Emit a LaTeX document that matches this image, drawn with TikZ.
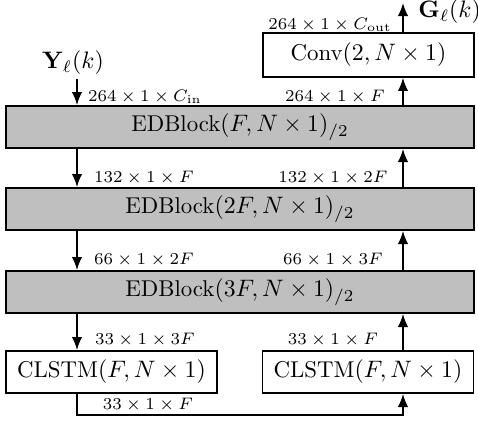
\documentclass[tikz,border=0pt]{standalone}
\usetikzlibrary{arrows.meta}
\begin{document}
\begin{tikzpicture}[x=0.42pt,y=-0.42pt,
  blk/.style={draw=black,line width=0.8pt,rectangle,inner sep=0pt,minimum height=17.6pt,font=\fontsize{9.6}{11}\selectfont},
  edb/.style={blk,fill=gray!50,minimum width=196.5pt},
  wb/.style={blk,fill=white,minimum width=88.6pt},
  lab/.style={font=\fontsize{7}{8.5}\selectfont,inner sep=0pt},
  conn/.style={line width=0.7pt,-{Latex[length=5.5pt,width=4.4pt]}}]
\useasboundingbox (0,0) rectangle (478,423);
\node[edb] (ed1) at (240,127) {EDBlock$(F,N\times 1)_{/2}$};
\node[edb] (ed2) at (240,209) {EDBlock$(2F,N\times 1)_{/2}$};
\node[edb] (ed3) at (240,292) {EDBlock$(3F,N\times 1)_{/2}$};
\node[wb] (cl1) at (111.5,372) {CLSTM$(F,N\times 1)$};
\node[wb] (cl2) at (368,372) {CLSTM$(F,N\times 1)$};
\node[wb,minimum height=18.4pt] (conv) at (368.5,55) {Conv$(2,N\times 1)$};
\node[font=\fontsize{10}{12}\selectfont,inner sep=0pt] (ylab) at (73,63) {$\mathbf{Y}_\ell(k)$};
\node[font=\fontsize{10}{12}\selectfont,inner sep=0pt,anchor=west] (glab) at (418,12) {$\mathbf{G}_\ell(k)$};
\coordinate (yin) at (77,79);
\coordinate (gout) at (403,3);
\coordinate (bl) at (77,415);
\coordinate (br) at (403,415);
% down path
\draw[conn] (yin) -- (yin|-ed1.north);
\draw[conn] (yin|-ed1.south) -- (yin|-ed2.north);
\draw[conn] (yin|-ed2.south) -- (yin|-ed3.north);
\draw[conn] (yin|-ed3.south) -- (yin|-cl1.north);
\draw[conn] (bl|-cl1.south) -- (bl) -- (br) -- (br|-cl2.south);
% up path
\draw[conn] (br|-cl2.north) -- (br|-ed3.south);
\draw[conn] (br|-ed3.north) -- (br|-ed2.south);
\draw[conn] (br|-ed2.north) -- (br|-ed1.south);
\draw[conn] (br|-ed1.north) -- (br|-conv.south);
\draw[conn] (br|-conv.north) -- (gout);
% labels
\node[lab] (l1) at (145,97) {$264\times 1\times C_{\mathrm{in}}$};
\node[lab] (r1) at (335,97) {$264\times 1\times F$};
\node[lab] (r0) at (330,25) {$264\times 1\times C_{\mathrm{out}}$};
\node[lab] (l2) at (144,178) {$132\times 1\times F$};
\node[lab] (r2) at (333,178) {$132\times 1\times 2F$};
\node[lab] (l3) at (144,260) {$66\times 1\times 2F$};
\node[lab] (r3) at (333,260) {$66\times 1\times 3F$};
\node[lab] (l4) at (145,340) {$33\times 1\times 3F$};
\node[lab] (r4) at (333,340) {$33\times 1\times F$};
\node[lab] (b4) at (148,405) {$33\times 1\times F$};
\end{tikzpicture}
\end{document}
